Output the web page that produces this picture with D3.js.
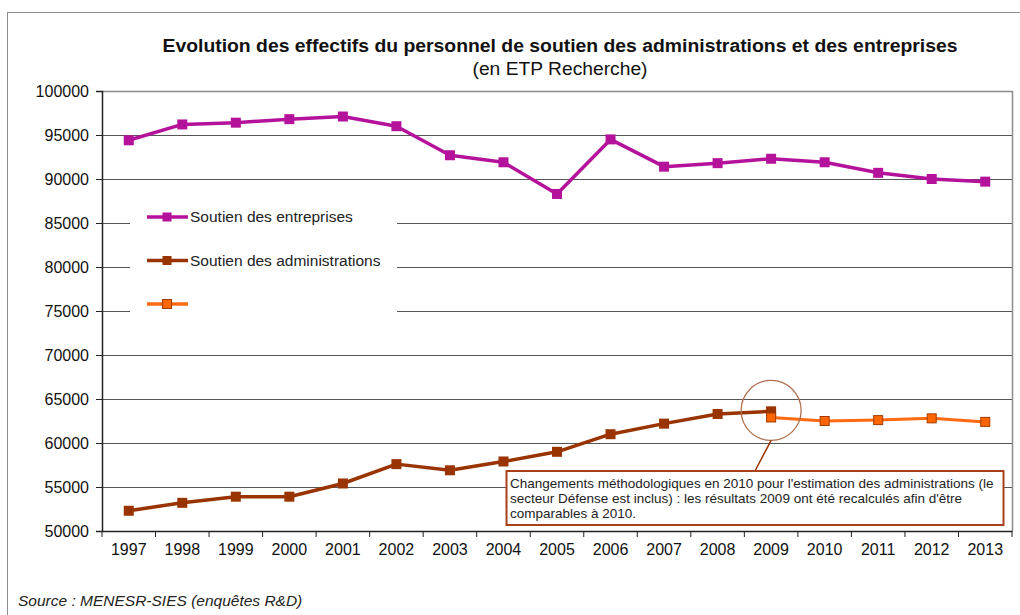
<!DOCTYPE html>
<html>
<head>
<meta charset="utf-8">
<script src="https://cdn.jsdelivr.net/npm/d3@7"></script>
<style>
  body { margin: 0; background: #fff; }
  svg { font-family: Arial, "Liberation Sans", sans-serif; }
</style>
</head>
<body>
<svg id="chart"></svg>
<script>
const width = 1020;
const height = 615;

// data
const years = ["1997", "1998", "1999", "2000", "2001", "2002", "2003", "2004", "2005",
  "2006", "2007", "2008", "2009", "2010", "2011", "2012", "2013"];
const entreprises = [94400, 96200, 96400, 96800, 97100, 96000, 92700, 91900, 88300,
  94500, 91400, 91800, 92300, 91900, 90700, 90000, 89700];
const administrations = [52300, 53200, 53900, 53900, 55400, 57600, 56900, 57900, 59000,
  61000, 62200, 63300, 63600];
const adminYears = years.slice(0, 13);
const adminNew = [62900, 62500, 62600, 62800, 62400];
const adminNewYears = ["2009", "2010", "2011", "2012", "2013"];
const yTicks = [50000, 55000, 60000, 65000, 70000, 75000, 80000, 85000, 90000, 95000, 100000];

const legendItems = [
  {label: "Soutien des entreprises", color: "#b5129c", fill: "#b5129c", stroke: "none"},
  {label: "Soutien des administrations", color: "#993300", fill: "#993300", stroke: "none"},
  {label: "", color: "#ff6a10", fill: "#ff6600", stroke: "#a33a00"}
];

const margin = {top: 91, right: 1012, bottom: 531, left: 102};

const svg = d3.select("#chart")
  .attr("width", width)
  .attr("height", height)
  .attr("viewBox", [0, 0, width, height]);

// outer frame
svg.append("rect")
  .attr("x", 7.5).attr("y", 12.5)
  .attr("width", 1030).attr("height", 620)
  .attr("fill", "none")
  .attr("stroke", "#8c8c8c")
  .attr("stroke-width", 1);

// titles
svg.append("text")
  .attr("x", 560).attr("y", 52)
  .attr("text-anchor", "middle")
  .attr("font-weight", "bold")
  .attr("font-size", 17.5)
  .attr("textLength", 795)
  .attr("lengthAdjust", "spacingAndGlyphs")
  .attr("fill", "#111")
  .text("Evolution des effectifs du personnel de soutien des administrations et des entreprises");

svg.append("text")
  .attr("x", 560).attr("y", 75)
  .attr("text-anchor", "middle")
  .attr("font-size", 17.5)
  .attr("textLength", 175)
  .attr("lengthAdjust", "spacingAndGlyphs")
  .attr("fill", "#111")
  .text("(en ETP Recherche)");

const x = d3.scaleBand()
  .domain(years)
  .range([margin.left, margin.right]);

const y = d3.scaleLinear()
  .domain([50000, 100000])
  .range([margin.bottom, margin.top]);

// gridlines (broken behind the legend for 75000..85000)
const grid = svg.append("g").attr("stroke", "#555").attr("stroke-width", 1);
yTicks.filter(d => d > 50000 && d < 100000).forEach(d => {
  const yy = Math.round(y(d)) + 0.5;
  if (d >= 75000 && d <= 85000) {
    grid.append("line").attr("x1", margin.left).attr("x2", 130).attr("y1", yy).attr("y2", yy);
    grid.append("line").attr("x1", 397).attr("x2", margin.right).attr("y1", yy).attr("y2", yy);
  } else {
    grid.append("line").attr("x1", margin.left).attr("x2", margin.right).attr("y1", yy).attr("y2", yy);
  }
});

// plot frame top and right
svg.append("path")
  .attr("d", `M${margin.left},${margin.top + 0.5}H${margin.right + 0.5}V${margin.bottom}`)
  .attr("fill", "none")
  .attr("stroke", "#8c8c8c")
  .attr("stroke-width", 1.5);

// y axis
const yAxis = svg.append("g")
  .attr("transform", `translate(${margin.left},0)`)
  .call(d3.axisLeft(y).tickValues(yTicks).tickSize(6).tickPadding(7).tickFormat(d3.format("d")));
yAxis.select(".domain").attr("stroke", "#222").attr("stroke-width", 1.5);
yAxis.selectAll(".tick line").attr("stroke", "#222");
yAxis.selectAll("text").attr("font-size", 16).attr("fill", "#111").attr("font-family", "Arial, 'Liberation Sans', sans-serif");

// x axis with ticks between categories
const xAxis = svg.append("g")
  .attr("transform", `translate(0,${margin.bottom})`)
  .call(d3.axisBottom(x).tickSize(0).tickPadding(13));
xAxis.select(".domain").attr("stroke", "#222").attr("stroke-width", 1.5);
xAxis.selectAll("text").attr("font-size", 16).attr("fill", "#111").attr("font-family", "Arial, 'Liberation Sans', sans-serif");
xAxis.selectAll(".sep")
  .data(years.concat(["end"]))
  .join("line")
  .attr("class", "sep")
  .attr("x1", (d, i) => margin.left + i * x.bandwidth())
  .attr("x2", (d, i) => margin.left + i * x.bandwidth())
  .attr("y1", 0).attr("y2", 6)
  .attr("stroke", "#222");

const cx = d => x(d) + x.bandwidth() / 2;
const line = d3.line().x(d => cx(d[0])).y(d => y(d[1]));

function drawSeries(keys, values, color, fill, stroke, size, lw) {
  const pts = keys.map((k, i) => [k, values[i]]);
  svg.append("path")
    .datum(pts)
    .attr("fill", "none")
    .attr("stroke", color)
    .attr("stroke-width", lw)
    .attr("stroke-linejoin", "round")
    .attr("d", line);
  svg.append("g")
    .selectAll("rect")
    .data(pts)
    .join("rect")
    .attr("x", d => cx(d[0]) - size / 2)
    .attr("y", d => y(d[1]) - size / 2)
    .attr("width", size).attr("height", size)
    .attr("fill", fill)
    .attr("stroke", stroke)
    .attr("stroke-width", 1);
}

drawSeries(years, entreprises, "#b5129c", "#b5129c", "none", 10, 3.5);
drawSeries(adminYears, administrations, "#993300", "#993300", "none", 10, 3.5);
drawSeries(adminNewYears, adminNew, "#ff6a10", "#ff6600", "#a33a00", 9, 3);

// legend
const legend = svg.append("g");
legendItems.forEach((d, i) => {
  const ly = 217 + i * 43.5;
  legend.append("line")
    .attr("x1", 147).attr("x2", 188).attr("y1", ly).attr("y2", ly)
    .attr("stroke", d.color).attr("stroke-width", 3.5);
  legend.append("rect")
    .attr("x", 167 - 4.5).attr("y", ly - 4.5).attr("width", 9).attr("height", 9)
    .attr("fill", d.fill).attr("stroke", d.stroke);
  legend.append("text")
    .attr("x", 190).attr("y", ly + 5)
    .attr("font-size", 15.5).attr("fill", "#222")
    .text(d.label);
});

// annotation: circle, leader line, box
const circleX = cx("2009");
const circleY = (y(63600) + y(62900)) / 2 - 4;
svg.append("circle")
  .attr("cx", circleX).attr("cy", circleY).attr("r", 30)
  .attr("fill", "none").attr("stroke", "#b0704f").attr("stroke-width", 1.3);
svg.append("line")
  .attr("x1", circleX).attr("y1", circleY + 30)
  .attr("x2", 755).attr("y2", 471)
  .attr("stroke", "#993300").attr("stroke-width", 1.5);

svg.append("rect")
  .attr("x", 506.5).attr("y", 471)
  .attr("width", 497).attr("height", 54)
  .attr("fill", "#fff")
  .attr("stroke", "#a8411a").attr("stroke-width", 2);

const note = [
  "Changements méthodologiques en 2010 pour l'estimation des administrations (le",
  "secteur Défense est inclus)  : les résultats 2009 ont été recalculés afin d'être",
  "comparables à 2010."
];
svg.append("g").selectAll("text")
  .data(note)
  .join("text")
  .attr("x", 510)
  .attr("y", (d, i) => 488 + i * 15)
  .attr("font-size", 13.5)
  .attr("fill", "#222")
  .text(d => d);

// source
svg.append("text")
  .attr("x", 18).attr("y", 606)
  .attr("font-size", 15.5)
  .attr("font-style", "italic")
  .attr("fill", "#222")
  .text("Source : MENESR-SIES (enquêtes R&D)");
</script>
</body>
</html>
